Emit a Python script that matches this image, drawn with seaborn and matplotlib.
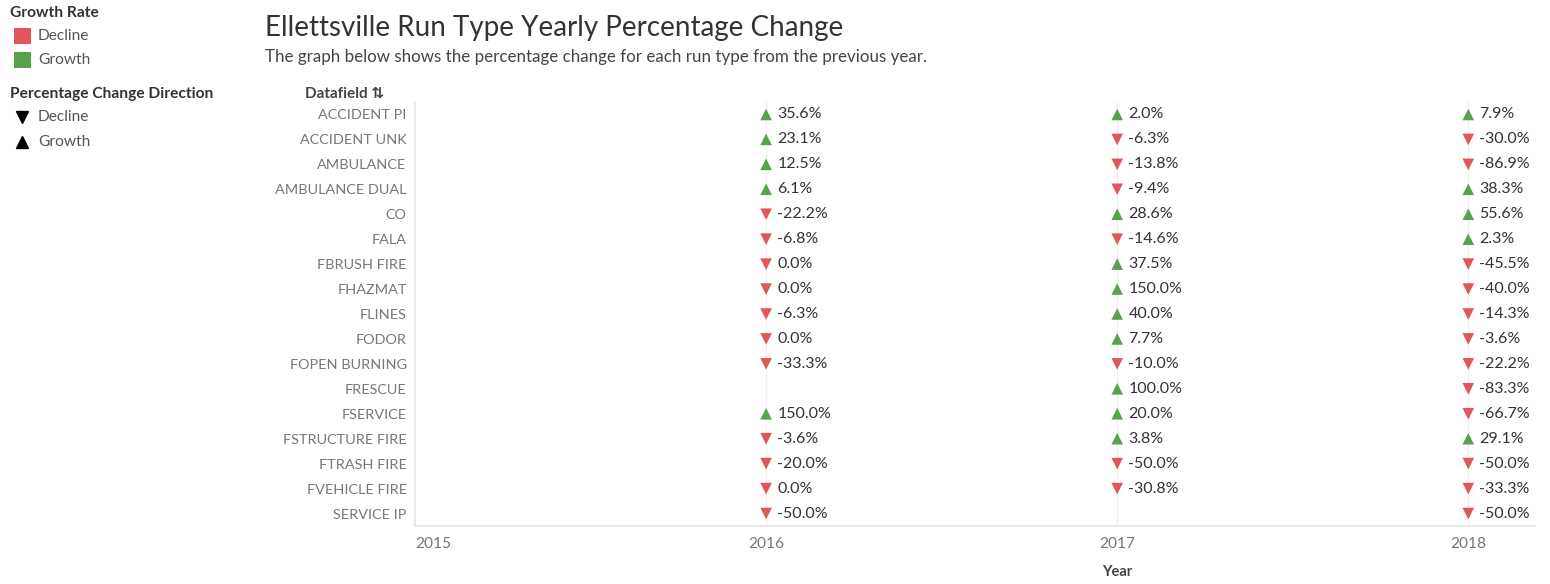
import numpy as np
import pandas as pd
import seaborn as sns
import matplotlib.pyplot as plt
from matplotlib.lines import Line2D
from matplotlib.patches import Rectangle

categorias = ['ACCIDENT PI', 'ACCIDENT UNK', 'AMBULANCE', 'AMBULANCE DUAL', 'CO', 'FALA',
              'FBRUSH FIRE', 'FHAZMAT', 'FLINES', 'FODOR', 'FOPEN BURNING', 'FRESCUE',
              'FSERVICE', 'FSTRUCTURE FIRE', 'FTRASH FIRE', 'FVEHICLE FIRE', 'SERVICE IP']
anios = [2016, 2017, 2018]
cambio_2016 = [35.6, 23.1, 12.5, 6.1, -22.2, -6.8, 0.0, 0.0, -6.3, 0.0, -33.3, np.nan,
               150.0, -3.6, -20.0, 0.0, -50.0]
cambio_2017 = [2.0, -6.3, -13.8, -9.4, 28.6, -14.6, 37.5, 150.0, 40.0, 7.7, -10.0, 100.0,
               20.0, 3.8, -50.0, -30.8, np.nan]
cambio_2018 = [7.9, -30.0, -86.9, 38.3, 55.6, 2.3, -45.5, -40.0, -14.3, -3.6, -22.2, -83.3,
               -66.7, 29.1, -50.0, -33.3, -50.0]
ticks_anio = [2015, 2016, 2017, 2018]

ROJO = '#e15759'
VERDE = '#59a14f'
FUENTE = ['Lato', 'DejaVu Sans']
W, H = 1550, 584

filas = []
for anio, valores in zip(anios, [cambio_2016, cambio_2017, cambio_2018]):
    for cat, v in zip(categorias, valores):
        if np.isnan(v):
            continue
        direccion = 'Growth' if v > 0 else 'Decline'
        filas.append({'Datafield': cat, 'Year': anio, 'Cambio': v, 'Direccion': direccion})
df = pd.DataFrame(filas)
df['Datafield'] = pd.Categorical(df['Datafield'], categories=categorias)
df['pos'] = df['Datafield'].cat.codes

sns.set_theme(style='white')
plt.rcParams['font.family'] = FUENTE

fig = plt.figure(figsize=(15.5, 5.84), dpi=100)
ax = fig.add_axes([415 / W, 1 - 526 / H, 1120 / W, 424 / H])

sns.scatterplot(data=df, x='Year', y='pos', hue='Direccion', style='Direccion',
                palette={'Decline': ROJO, 'Growth': VERDE},
                markers={'Decline': 'v', 'Growth': '^'}, s=70, linewidth=0,
                legend=False, ax=ax, zorder=3)

for _, r in df.iterrows():
    ax.annotate(f"{r['Cambio']:.1f}%", (r['Year'], r['pos']), xytext=(8, 0),
                textcoords='offset points', va='center', ha='left', fontsize=11.5,
                color='#333333')

ax.set_xlim(2015, 2018.19)
ax.set_ylim(16.5, -0.5)
ax.set_yticks(range(len(categorias)))
ax.set_yticklabels(categorias, fontsize=10.4, color='#777777')
ax.set_xticks(ticks_anio)
ax.set_xticklabels([str(t) for t in ticks_anio], fontsize=11.2, color='#777777')
ax.get_xticklabels()[0].set_horizontalalignment('left')
ax.tick_params(axis='y', length=0, pad=6)
ax.tick_params(axis='x', length=0, pad=8)
for x in anios:
    ax.axvline(x, color='#f0f0f0', lw=1, zorder=0)
for lado in ['top', 'right']:
    ax.spines[lado].set_visible(False)
ax.spines['left'].set_color('#e6e6e6')
ax.spines['bottom'].set_color('#e6e6e6')
ax.set_ylabel('')
ax.set_xlabel('Year', fontsize=10.5, fontweight='bold', color='#444444', va='center')
ax.xaxis.set_label_coords((1117 - 415) / 1120, -(572 - 526) / 424)

fig.text(265 / W, 1 - 28 / H, 'Ellettsville Run Type Yearly Percentage Change',
         fontsize=20, color='#333333', va='center', ha='left')
fig.text(265 / W, 1 - 57 / H,
         'The graph below shows the percentage change for each run type from the previous year.',
         fontsize=12.2, color='#444444', va='center', ha='left')
fig.text(305 / W, 1 - 94 / H, 'Datafield \u21c5', fontsize=11, fontweight='bold',
         color='#444444', va='center', ha='left')

# leyendas
fig.text(10 / W, 1 - 13 / H, 'Growth Rate', fontsize=11.2, fontweight='bold',
         color='#333333', va='center', ha='left')
for y, color, txt in [(36, ROJO, 'Decline'), (60, VERDE, 'Growth')]:
    fig.add_artist(Rectangle((14 / W, 1 - (y + 8) / H), 17 / W, 16 / H,
                             facecolor=color, edgecolor='none', transform=fig.transFigure))
    fig.text(38 / W, 1 - y / H, txt, fontsize=11.2, color='#555555', va='center', ha='left')

fig.text(10 / W, 1 - 94 / H, 'Percentage Change Direction', fontsize=11.2, fontweight='bold',
         color='#333333', va='center', ha='left')
for y, m, txt in [(117, 'v', 'Decline'), (142, '^', 'Growth')]:
    fig.add_artist(Line2D([22 / W], [1 - y / H], marker=m, color='black', ls='',
                          markersize=8, transform=fig.transFigure))
    fig.text(38 / W, 1 - y / H, txt, fontsize=11.2, color='#555555', va='center', ha='left')

fig.savefig('out.png', dpi=100)
